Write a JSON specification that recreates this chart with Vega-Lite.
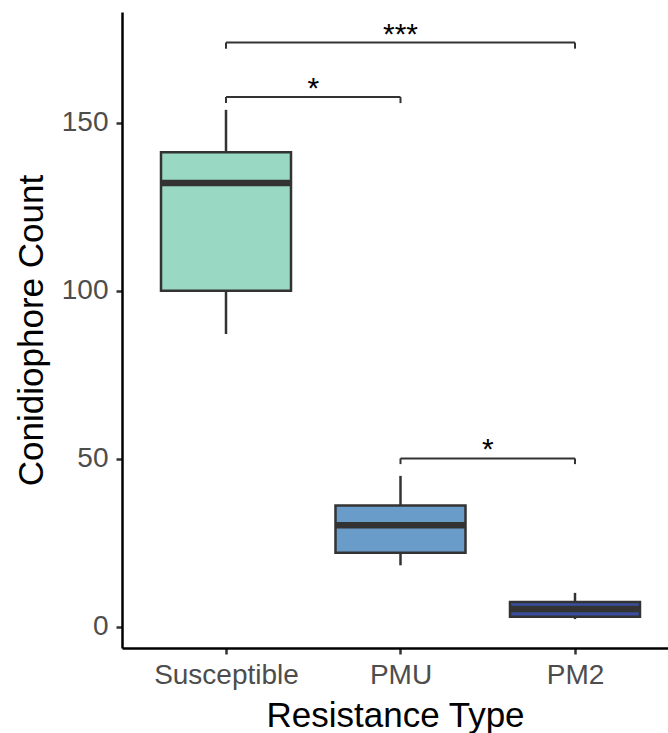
{
  "$schema": "https://vega.github.io/schema/vega-lite/v6.json",
  "width": 546,
  "height": 636,
  "autosize": {"type": "none"},
  "padding": {"left": 122, "top": 12, "right": 0, "bottom": 85},
  "background": "white",
  "config": {
    "view": {"stroke": null},
    "font": "Liberation Sans",
    "axis": {
      "grid": false,
      "domainColor": "black",
      "domainWidth": 2.5,
      "tickColor": "#333333",
      "tickWidth": 2.5,
      "tickSize": 6,
      "labelColor": "#4D4D4D",
      "labelFontSize": 28,
      "labelFont": "Liberation Sans",
      "titleFont": "Liberation Sans",
      "titleFontSize": 35,
      "titleFontWeight": "normal",
      "titleColor": "black"
    }
  },
  "datasets": {
    "boxes": [
      {"group": "Susceptible", "pos": 1, "lower": 87.1, "q1": 100.0, "median": 132.0, "q3": 141.2, "upper": 153.8},
      {"group": "PMU", "pos": 2, "lower": 18.3, "q1": 22.0, "median": 30.2, "q3": 36.1, "upper": 44.9},
      {"group": "PM2", "pos": 3, "lower": 2.3, "q1": 3.0, "median": 5.3, "q3": 7.4, "upper": 10.1}
    ],
    "brackets": [
      {"x1": 1, "x2": 3, "xm": 2, "y": 173.8, "ytip": 172.0, "label": "***"},
      {"x1": 1, "x2": 2, "xm": 1.5, "y": 157.6, "ytip": 155.8, "label": "*"},
      {"x1": 2, "x2": 3, "xm": 2.5, "y": 50.1, "ytip": 48.4, "label": "*"}
    ]
  },
  "layer": [
    {
      "data": {"name": "boxes"},
      "mark": {"type": "rule", "color": "#333333", "strokeWidth": 2.5},
      "encoding": {
        "x": {"field": "pos", "type": "quantitative",
          "scale": {"domain": [0.404, 3.533], "nice": false, "zero": false, "padding": 0},
          "axis": {"values": [1, 2, 3], "title": "Resistance Type", "labelExpr": "datum.value == 1 ? 'Susceptible' : datum.value == 2 ? 'PMU' : 'PM2'", "labelPadding": 7, "titlePadding": 9}},
        "y": {"field": "lower", "type": "quantitative",
          "scale": {"domain": [-6.3, 182.9], "nice": false, "zero": false, "padding": 0},
          "axis": {"values": [0, 50, 100, 150], "title": "Conidiophore Count", "labelPadding": 8, "titlePadding": 12}},
        "y2": {"field": "upper"}
      }
    },
    {
      "data": {"name": "boxes"},
      "mark": {"type": "bar", "width": 130, "stroke": "#333333", "strokeWidth": 2.5},
      "encoding": {
        "x": {"field": "pos", "type": "quantitative"},
        "y": {"field": "q1", "type": "quantitative"},
        "y2": {"field": "q3"},
        "color": {"field": "group", "type": "nominal", "legend": null,
          "scale": {"domain": ["Susceptible", "PMU", "PM2"], "range": ["#99D9C4", "#6A9CC9", "#3B4E9E"]}}
      }
    },
    {
      "data": {"name": "boxes"},
      "mark": {"type": "tick", "orient": "horizontal", "size": 130, "thickness": 6.5, "color": "#333333", "opacity": 1},
      "encoding": {
        "x": {"field": "pos", "type": "quantitative"},
        "y": {"field": "median", "type": "quantitative"}
      }
    },
    {
      "data": {"name": "brackets"},
      "mark": {"type": "rule", "color": "#333333", "strokeWidth": 2},
      "encoding": {
        "x": {"field": "x1", "type": "quantitative"},
        "x2": {"field": "x2"},
        "y": {"field": "y", "type": "quantitative"}
      }
    },
    {
      "data": {"name": "brackets"},
      "mark": {"type": "rule", "color": "#333333", "strokeWidth": 2},
      "encoding": {
        "x": {"field": "x1", "type": "quantitative"},
        "y": {"field": "y", "type": "quantitative"},
        "y2": {"field": "ytip"}
      }
    },
    {
      "data": {"name": "brackets"},
      "mark": {"type": "rule", "color": "#333333", "strokeWidth": 2},
      "encoding": {
        "x": {"field": "x2", "type": "quantitative"},
        "y": {"field": "y", "type": "quantitative"},
        "y2": {"field": "ytip"}
      }
    },
    {
      "data": {"name": "brackets"},
      "mark": {"type": "text", "fontSize": 30, "color": "black", "baseline": "alphabetic", "align": "center", "dy": 1},
      "encoding": {
        "x": {"field": "xm", "type": "quantitative"},
        "y": {"field": "y", "type": "quantitative"},
        "text": {"field": "label"}
      }
    }
  ]
}
